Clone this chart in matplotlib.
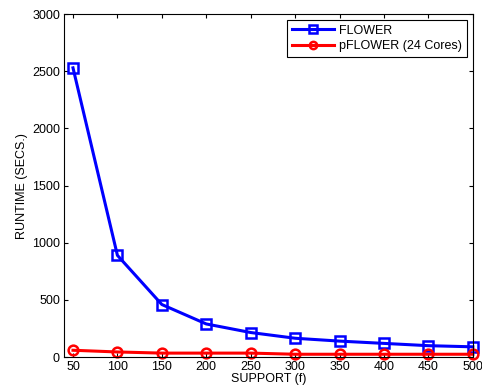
import matplotlib
matplotlib.use("Agg")
import matplotlib.pyplot as plt

plt.rcParams['font.family'] = ['Liberation Sans', 'DejaVu Sans']

support = [50, 100, 150, 200, 250, 300, 350, 400, 450, 500]
flower = [2530, 890, 460, 290, 215, 165, 140, 120, 100, 90]
pflower = [60, 45, 35, 35, 35, 25, 25, 25, 25, 25]

fig = plt.figure(figsize=(4.82, 3.92), dpi=100)
ax = fig.add_axes([0.133, 0.089, 0.848, 0.875])

ax.plot(support, flower, color='blue', lw=2.2, marker='s', ms=7,
        mfc='none', mew=1.8, label='FLOWER', clip_on=False)
ax.plot(support, pflower, color='red', lw=2.2, marker='o', ms=7,
        mfc='none', mew=1.8, label='pFLOWER (24 Cores)', clip_on=False)

ax.set_xlim(40, 500)
ax.set_ylim(0, 3000)
ax.set_xticks(support)
ax.set_yticks(range(0, 3001, 500))
ax.tick_params(direction='in', top=True, right=True, labelsize=9, length=3, pad=3)
ax.set_xlabel('SUPPORT (f)', fontsize=9, labelpad=0)
ax.set_ylabel('RUNTIME (SECS.)', fontsize=9, labelpad=3)

leg = ax.legend(loc='upper right', fontsize=9, fancybox=False, edgecolor='black',
                framealpha=1, borderaxespad=0.5, handlelength=3.4, borderpad=0.35,
                labelspacing=0.3, handletextpad=0.4, markerscale=0.75)
leg.get_frame().set_linewidth(0.8)

fig.savefig('out.png', dpi=100)
